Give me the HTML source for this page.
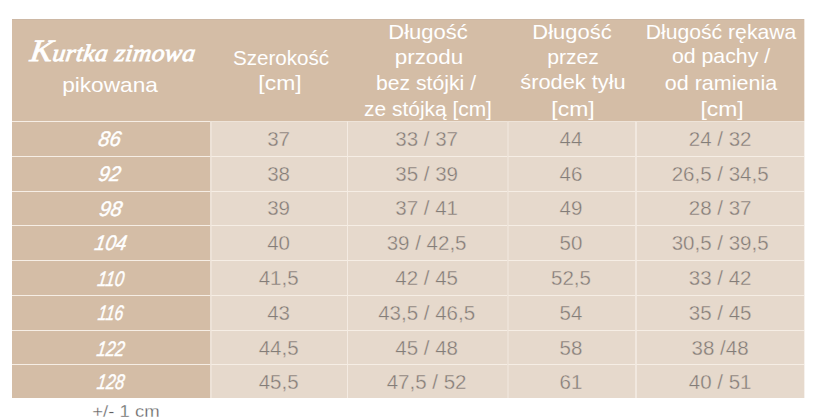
<!DOCTYPE html>
<html lang="pl">
<head>
<meta charset="utf-8">
<title>Tabela rozmiarów – kurtka zimowa pikowana</title>
<style>
html,body{margin:0;padding:0;background:#fff;}
body{width:820px;height:419px;position:relative;overflow:hidden;display:flow-root;font-family:"Liberation Sans",sans-serif;}
table{margin:19px 0 0 12px;width:792px;border-collapse:separate;border-spacing:0;table-layout:fixed;}
th,td{padding:0;margin:0;box-sizing:border-box;font-weight:normal;border:0 solid #F6EEE5;background:#E6D9CC;}
thead th{height:102px;background:#D4BDA6;border-top:1px solid #CDB8A5;}
tbody th,tbody td{border-top-width:1px;}
tbody th{background:#D4BDA6;}
tbody tr:first-child td{border-top-color:#EEE4D9;}
tbody td.c2{border-left:2px solid #EDE2D7;}
tbody td.c3{border-left:1px solid #F4EBE2;}
tbody td.c4{border-left:2px solid #ECE1D6;}
tbody td.c5{border-left:2px solid #F1E8DF;}
tbody tr:first-child td.c2{border-top-color:#EEE4D9;}
.edge{position:absolute;left:804px;top:19px;width:1px;height:379px;opacity:.35;background:linear-gradient(to bottom,#D4BDA6 0,#D4BDA6 102px,#E6D9CC 102px,#E6D9CC 100%);}
.t{position:absolute;white-space:nowrap;line-height:1;transform-origin:50% 50%;}
.h{font-size:21px;color:#fff;}
.script{font-size:24px;color:#fff;font-family:"Liberation Serif",serif;font-style:italic;-webkit-text-stroke:0.8px #fff;letter-spacing:0.3px;}
.K{font-size:31px;line-height:0;}
.sz{font-size:21px;color:#fff;font-style:italic;-webkit-text-stroke:0.45px #fff;}
.n{font-size:20.5px;color:#827D78;-webkit-text-stroke:0.35px #E6D9CC;}
.f{font-size:16.5px;color:#606060;-webkit-text-stroke:0.3px #fff;}
p{margin:0;}
</style>
</head>
<body>
<table>
<colgroup><col style="width:198px"><col style="width:137px"><col style="width:160px"><col style="width:128px"><col style="width:169px"></colgroup>
<thead>
<tr>
<th scope="col"><span class="t script" style="left:112.58px;top:40.70px;transform:translateX(-50%) scaleX(1.0710) skewX(-7deg)"><span class="K">K</span>urtka zimowa</span><span class="t h" style="left:110.26px;top:74.32px;transform:translateX(-50%) scaleX(1.0787)">pikowana</span></th>
<th scope="col"><span class="t h" style="left:280.58px;top:46.92px;transform:translateX(-50%) scaleX(0.9813)">Szerokość</span><span class="t h" style="left:279.50px;top:72.22px;transform:translateX(-50%) scaleX(1.0902)">[cm]</span></th>
<th scope="col"><span class="t h" style="left:427.98px;top:21.32px;transform:translateX(-50%) scaleX(1.0472)">Długość</span><span class="t h" style="left:428.64px;top:45.72px;transform:translateX(-50%) scaleX(1.0697)">przodu</span><span class="t h" style="left:426.20px;top:72.12px;transform:translateX(-50%) scaleX(1.0089)">bez stójki /</span><span class="t h" style="left:428.14px;top:97.62px;transform:translateX(-50%) scaleX(0.9953)">ze stójką [cm]</span></th>
<th scope="col"><span class="t h" style="left:571.84px;top:21.12px;transform:translateX(-50%) scaleX(1.0446)">Długość</span><span class="t h" style="left:572.62px;top:45.72px;transform:translateX(-50%) scaleX(1.0064)">przez</span><span class="t h" style="left:572.86px;top:71.32px;transform:translateX(-50%) scaleX(1.0381)">środek tyłu</span><span class="t h" style="left:572.62px;top:97.62px;transform:translateX(-50%) scaleX(1.0914)">[cm]</span></th>
<th scope="col"><span class="t h" style="left:720.72px;top:21.02px;transform:translateX(-50%) scaleX(1.0081)">Długość rękawa</span><span class="t h" style="left:720.88px;top:45.12px;transform:translateX(-50%) scaleX(1.0133)">od pachy /</span><span class="t h" style="left:720.62px;top:71.82px;transform:translateX(-50%) scaleX(1.0239)">od ramienia</span><span class="t h" style="left:722.00px;top:97.52px;transform:translateX(-50%) scaleX(1.0897)">[cm]</span></th>
</tr>
</thead>
<tbody>
<tr style="height:35px">
<th scope="row" style="height:35px"><span class="t sz" style="left:110.38px;top:127.82px;transform:translateX(-50%) scaleX(0.9642) skewX(-10deg)">86</span></th>
<td class="c2"><span class="t n" style="left:278.60px;top:128.85px;transform:translateX(-50%) scaleX(1.0000)">37</span></td>
<td class="c3"><span class="t n" style="left:426.60px;top:128.85px;transform:translateX(-50%) scaleX(1.0000)">33 / 37</span></td>
<td class="c4"><span class="t n" style="left:571.00px;top:128.85px;transform:translateX(-50%) scaleX(1.0000)">44</span></td>
<td class="c5"><span class="t n" style="left:720.10px;top:128.85px;transform:translateX(-50%) scaleX(1.0000)">24 / 32</span></td>
</tr>
<tr style="height:35px">
<th scope="row" style="height:35px"><span class="t sz" style="left:110.24px;top:162.52px;transform:translateX(-50%) scaleX(0.9342) skewX(-10deg)">92</span></th>
<td class="c2"><span class="t n" style="left:278.60px;top:163.55px;transform:translateX(-50%) scaleX(1.0000)">38</span></td>
<td class="c3"><span class="t n" style="left:426.60px;top:163.55px;transform:translateX(-50%) scaleX(1.0000)">35 / 39</span></td>
<td class="c4"><span class="t n" style="left:571.00px;top:163.55px;transform:translateX(-50%) scaleX(1.0000)">46</span></td>
<td class="c5"><span class="t n" style="left:720.10px;top:163.55px;transform:translateX(-50%) scaleX(1.0000)">26,5 / 34,5</span></td>
</tr>
<tr style="height:34px">
<th scope="row" style="height:34px"><span class="t sz" style="left:110.90px;top:198.22px;transform:translateX(-50%) scaleX(0.9626) skewX(-10deg)">98</span></th>
<td class="c2"><span class="t n" style="left:278.60px;top:198.25px;transform:translateX(-50%) scaleX(1.0000)">39</span></td>
<td class="c3"><span class="t n" style="left:426.60px;top:198.25px;transform:translateX(-50%) scaleX(1.0000)">37 / 41</span></td>
<td class="c4"><span class="t n" style="left:571.00px;top:198.25px;transform:translateX(-50%) scaleX(1.0000)">49</span></td>
<td class="c5"><span class="t n" style="left:720.10px;top:198.25px;transform:translateX(-50%) scaleX(1.0000)">28 / 37</span></td>
</tr>
<tr style="height:35px">
<th scope="row" style="height:35px"><span class="t sz" style="left:110.86px;top:231.82px;transform:translateX(-50%) scaleX(0.9111) skewX(-10deg)">104</span></th>
<td class="c2"><span class="t n" style="left:278.60px;top:232.85px;transform:translateX(-50%) scaleX(1.0000)">40</span></td>
<td class="c3"><span class="t n" style="left:426.60px;top:232.85px;transform:translateX(-50%) scaleX(1.0000)">39 / 42,5</span></td>
<td class="c4"><span class="t n" style="left:571.00px;top:232.85px;transform:translateX(-50%) scaleX(1.0000)">50</span></td>
<td class="c5"><span class="t n" style="left:720.10px;top:232.85px;transform:translateX(-50%) scaleX(1.0000)">30,5 / 39,5</span></td>
</tr>
<tr style="height:35px">
<th scope="row" style="height:35px"><span class="t sz" style="left:111.02px;top:267.52px;transform:translateX(-50%) scaleX(0.7936) skewX(-10deg)">110</span></th>
<td class="c2"><span class="t n" style="left:278.60px;top:267.55px;transform:translateX(-50%) scaleX(1.0000)">41,5</span></td>
<td class="c3"><span class="t n" style="left:426.60px;top:267.55px;transform:translateX(-50%) scaleX(1.0000)">42 / 45</span></td>
<td class="c4"><span class="t n" style="left:571.00px;top:267.55px;transform:translateX(-50%) scaleX(1.0000)">52,5</span></td>
<td class="c5"><span class="t n" style="left:720.10px;top:267.55px;transform:translateX(-50%) scaleX(1.0000)">33 / 42</span></td>
</tr>
<tr style="height:35px">
<th scope="row" style="height:35px"><span class="t sz" style="left:110.56px;top:302.22px;transform:translateX(-50%) scaleX(0.7582) skewX(-10deg)">116</span></th>
<td class="c2"><span class="t n" style="left:278.60px;top:303.25px;transform:translateX(-50%) scaleX(1.0000)">43</span></td>
<td class="c3"><span class="t n" style="left:426.60px;top:303.25px;transform:translateX(-50%) scaleX(1.0000)">43,5 / 46,5</span></td>
<td class="c4"><span class="t n" style="left:571.00px;top:303.25px;transform:translateX(-50%) scaleX(1.0000)">54</span></td>
<td class="c5"><span class="t n" style="left:720.10px;top:303.25px;transform:translateX(-50%) scaleX(1.0000)">35 / 45</span></td>
</tr>
<tr style="height:34px">
<th scope="row" style="height:34px"><span class="t sz" style="left:111.10px;top:337.82px;transform:translateX(-50%) scaleX(0.7942) skewX(-10deg)">122</span></th>
<td class="c2"><span class="t n" style="left:278.60px;top:337.85px;transform:translateX(-50%) scaleX(1.0000)">44,5</span></td>
<td class="c3"><span class="t n" style="left:426.60px;top:337.85px;transform:translateX(-50%) scaleX(1.0000)">45 / 48</span></td>
<td class="c4"><span class="t n" style="left:571.00px;top:337.85px;transform:translateX(-50%) scaleX(1.0000)">58</span></td>
<td class="c5"><span class="t n" style="left:720.10px;top:337.85px;transform:translateX(-50%) scaleX(1.0000)">38 /48</span></td>
</tr>
<tr style="height:34px">
<th scope="row" style="height:34px"><span class="t sz" style="left:111.02px;top:371.42px;transform:translateX(-50%) scaleX(0.7822) skewX(-10deg)">128</span></th>
<td class="c2"><span class="t n" style="left:278.60px;top:372.45px;transform:translateX(-50%) scaleX(1.0000)">45,5</span></td>
<td class="c3"><span class="t n" style="left:426.60px;top:372.45px;transform:translateX(-50%) scaleX(1.0000)">47,5 / 52</span></td>
<td class="c4"><span class="t n" style="left:571.00px;top:372.45px;transform:translateX(-50%) scaleX(1.0000)">61</span></td>
<td class="c5"><span class="t n" style="left:720.10px;top:372.45px;transform:translateX(-50%) scaleX(1.0000)">40 / 51</span></td>
</tr>
</tbody>
</table>
<div class="edge"></div>
<p><span class="t f" style="left:125.56px;top:402.73px;transform:translateX(-50%) scaleX(1.1252)">+/- 1 cm</span></p>
</body>
</html>
